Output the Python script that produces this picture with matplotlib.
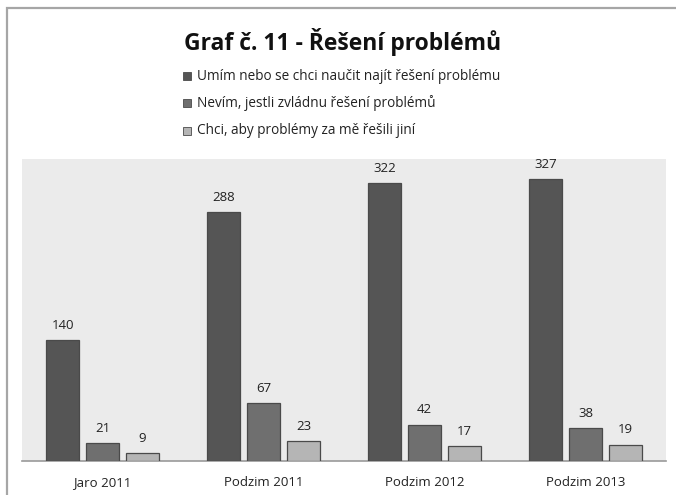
import matplotlib
matplotlib.use("Agg")
import matplotlib.pyplot as plt
from matplotlib.patches import Rectangle
import numpy as np

plt.rcParams['font.family'] = ['Open Sans', 'DejaVu Sans']

categories = ["Jaro 2011", "Podzim 2011", "Podzim 2012", "Podzim 2013"]
series_names = [
    "Umím nebo se chci naučit najít řešení problému",
    "Nevím, jestli zvládnu řešení problémů",
    "Chci, aby problémy za mě řešili jiní",
]
umim = [140, 288, 322, 327]
nevim = [21, 67, 42, 38]
chci = [9, 23, 17, 19]
colors = ["#555555", "#6f6f6f", "#b5b5b5"]

W, H = 676, 495
fig = plt.figure(figsize=(W / 100, H / 100), dpi=100)
fig.patch.set_facecolor("white")

# outer frame
fig.patches.append(Rectangle((7 / W, -0.05), 1.2, (H - 8) / H + 0.05,
                             transform=fig.transFigure, fill=False,
                             edgecolor="#a6a6a6", linewidth=1.6))

ax = fig.add_axes([22 / W, (H - 461) / H, 644 / W, (461 - 159) / H])
ax.set_facecolor("#ebebeb")

x = np.arange(len(categories))
offs = [-0.248, 0.0, 0.248]
bw = 0.205
for vals, off, col in zip([umim, nevim, chci], offs, colors):
    bars = ax.bar(x + off, vals, width=bw, color=col, edgecolor="#4a4a4a",
                  linewidth=0.9, zorder=3)
    for b, v in zip(bars, vals):
        ax.annotate(str(v), (b.get_x() + b.get_width() / 2, v),
                    xytext=(0, 6), textcoords="offset points",
                    ha="center", va="bottom", fontsize=9.5, color="#222222")

ax.set_xlim(-0.5, len(categories) - 0.5)
ax.set_ylim(0, 350)
ax.set_xticks(x)
ax.set_xticklabels(categories, fontsize=9.5, color="#222222")
ax.tick_params(axis="x", length=0, pad=11)
ax.set_yticks([])
for s in ["top", "right", "left"]:
    ax.spines[s].set_visible(False)
ax.spines["bottom"].set_color("#9a9a9a")
ax.spines["bottom"].set_linewidth(1.2)

fig.text(343 / W, 1 - 42 / H, "Graf č. 11 - Řešení problémů", ha="center",
         va="center", fontsize=16.5, fontweight="bold", color="#111111")

leg_y = [76, 103, 131]
for name, col, yy in zip(series_names, colors, leg_y):
    fig.patches.append(Rectangle((183 / W, 1 - (yy + 4) / H), 8 / W, 8 / H,
                                 transform=fig.transFigure, facecolor=col,
                                 edgecolor="#4a4a4a", linewidth=0.6))
    fig.text(197 / W, 1 - yy / H, name, ha="left", va="center",
             fontsize=9.8, color="#222222")

fig.savefig("out.png", dpi=100)
